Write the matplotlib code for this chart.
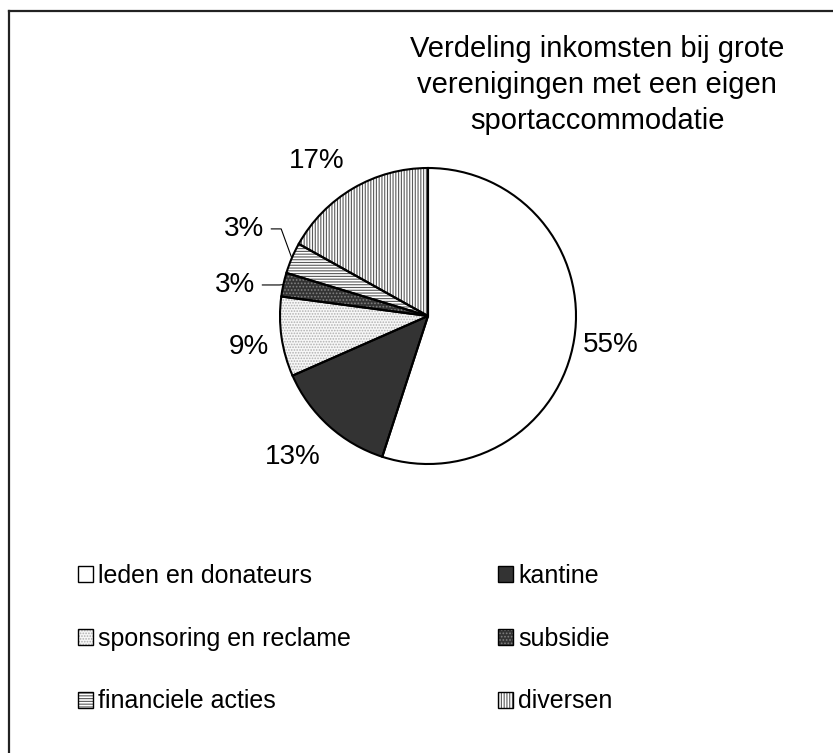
import matplotlib
matplotlib.use('Agg')
import matplotlib.pyplot as plt
import matplotlib.patches as mpatches
from matplotlib.legend_handler import HandlerBase
from matplotlib.lines import Line2D
import numpy as np

plt.rcParams['font.family'] = ['Liberation Sans', 'DejaVu Sans']
plt.rcParams['hatch.linewidth'] = 0.8

# Gegevens
categorieen = ['leden en donateurs', 'kantine', 'sponsoring en reclame',
               'subsidie', 'financiele acties', 'diversen']
aandelen = [55.0, 13.4, 8.7, 2.6, 3.4, 16.9]
labels = ['55%', '13%', '9%', '3%', '3%', '17%']

# Opmaak per segment: vulkleur, arcering, kleur van de arcering
vulkleuren = ['white', '#333333', '#f7f7f7', '#333333', 'white', 'white']
arceringen = [None, None, '......', '.....', '------', '||||||']
arceerkleuren = ['white', '#333333', '#b0b0b0', '#808080', '#5a5a5a', '#5a5a5a']

# Positie van de labels: (afstand in straal, hoekverschuiving in graden, knik van leiderlijn)
label_stijl = [(1.25, 0, None), (1.32, -1.7, None), (1.23, 1.7, None),
               (1.32, 3.1, 5), (1.375, -2.3, 110), (1.29, 5.4, None)]


class GearceerdVierkant(HandlerBase):
    # vierkantje met arcering in eigen kleur en een zwarte rand
    def create_artists(self, legend, orig_handle, xdescent, ydescent,
                       width, height, fontsize, trans):
        fc, h, hc = orig_handle
        vul = mpatches.Rectangle((-xdescent, -ydescent), width, height,
                                 facecolor=fc, edgecolor=hc, hatch=h,
                                 linewidth=0, transform=trans)
        rand = mpatches.Rectangle((-xdescent, -ydescent), width, height,
                                  facecolor='none', edgecolor='black',
                                  linewidth=1.0, transform=trans)
        return [vul, rand]


W, H = 833, 753
fig = plt.figure(figsize=(W / 100, H / 100), dpi=100)

# Kader (alleen boven- en linkerrand zichtbaar)
fig.add_artist(Line2D([9 / W, 1.0], [1 - 11 / H, 1 - 11 / H], color='#222222', lw=1.6))
fig.add_artist(Line2D([9 / W, 9 / W], [1 - 11 / H, 0.0], color='#222222', lw=1.6))

# Taartdiagram: middelpunt (428, 316), straal 148 px
cx, cy, half = 428, 316, 200
ax = fig.add_axes([(cx - half) / W, 1 - (cy + half) / H, 2 * half / W, 2 * half / H])

wedges, _ = ax.pie(aandelen, startangle=90, counterclock=False,
                   colors=vulkleuren, wedgeprops=dict(linewidth=0))
for w, h, hc in zip(wedges, arceringen, arceerkleuren):
    if h:
        w.set_hatch(h)
        w.set_edgecolor(hc)
# omtrek er overheen
ax.pie(aandelen, startangle=90, counterclock=False,
       wedgeprops=dict(facecolor='none', edgecolor='black', linewidth=1.5))

lim = 2 * half / (2 * 148)
ax.set_xlim(-lim, lim)
ax.set_ylim(-lim, lim)
ax.set_aspect('equal')
ax.axis('off')

for w, lab, (d, shift, knik) in zip(wedges, labels, label_stijl):
    mid = np.deg2rad((w.theta1 + w.theta2) / 2)
    ang = mid + np.deg2rad(shift)
    tx, ty = d * np.cos(ang), d * np.sin(ang)
    if knik is not None:
        ex, ey = np.cos(mid), np.sin(mid)
        ax.annotate(lab, xy=(ex, ey), xytext=(tx, ty), fontsize=20,
                    ha='center', va='center',
                    arrowprops=dict(arrowstyle='-', lw=0.8, color='black',
                                    relpos=(1, 0.5), shrinkA=3, shrinkB=0,
                                    connectionstyle=f'angle,angleA=0,angleB={knik},rad=0'))
    else:
        ax.text(tx, ty, lab, fontsize=20, ha='center', va='center')

# Titel
fig.text(597 / W, 1 - 85 / H,
         'Verdeling inkomsten bij grote\nverenigingen met een eigen\nsportaccommodatie',
         fontsize=21, ha='center', va='center', multialignment='center',
         linespacing=1.36)

# Legenda (rijsgewijs zoals het origineel)
stijlen = list(zip(vulkleuren, arceringen, arceerkleuren))
volgorde = [0, 2, 4, 1, 3, 5]
fig.legend([stijlen[i] for i in volgorde], [categorieen[i] for i in volgorde],
           handler_map={tuple: GearceerdVierkant()},
           ncol=2, loc='upper left', bbox_to_anchor=(78 / W, 1 - 564 / H),
           frameon=False, fontsize=18, handlelength=0.6, handleheight=0.6,
           handletextpad=0.2, labelspacing=1.55, columnspacing=5.9,
           borderpad=0, borderaxespad=0)

fig.savefig('out.png', dpi=100)
